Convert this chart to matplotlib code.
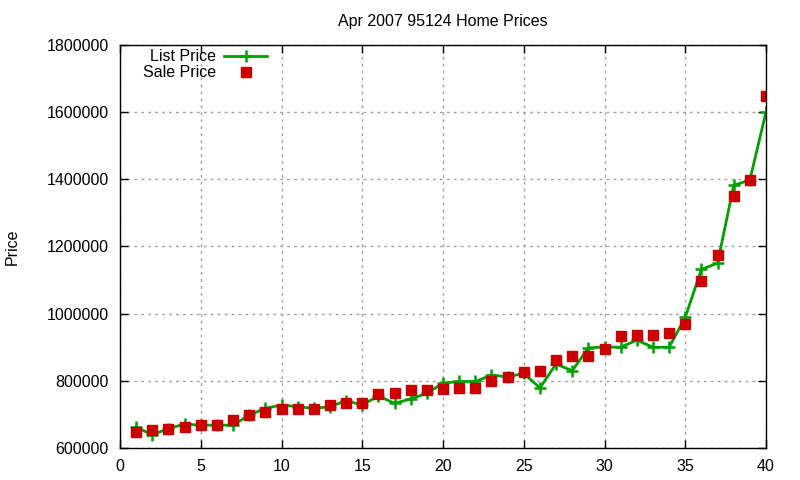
import matplotlib
matplotlib.use("Agg")
import matplotlib.pyplot as plt

plt.rcParams['font.family'] = ['Liberation Sans', 'DejaVu Sans']

# house index (1..40)
homes = list(range(1, 41))
list_price = [662000, 639000, 658000, 671000, 668000, 668000, 668000, 698000, 718000, 728000,
              723000, 718000, 723000, 741000, 728000, 755000, 733000, 746000, 763000, 793000,
              798000, 798000, 817000, 812000, 822000, 779000, 850000, 830000, 898000, 901000,
              900000, 921000, 900000, 900000, 989000, 1132000, 1150000, 1382000, 1398000, 1600000]
sale_price = [647000, 654000, 657000, 663000, 668000, 668000, 683000, 699000, 708000, 716000,
              716000, 716000, 728000, 733000, 735000, 760000, 765000, 773000, 773000, 776000,
              779000, 779000, 798000, 812000, 827000, 830000, 862000, 875000, 874000, 895000,
              933000, 936000, 937000, 943000, 970000, 1098000, 1175000, 1351000, 1398000, 1648000]

fig = plt.figure(figsize=(8, 4.8), dpi=100)
ax = fig.add_axes([0.15, 0.0667, 0.8075, 0.8396])

ax.plot(homes, list_price, color='#00a000', lw=2, marker='+', ms=9, mew=1.8, label='List Price')
ax.plot(homes, sale_price, ls='none', marker='s', ms=6.5, color='#cc0000', label='Sale Price')

ax.set_xlim(0, 40)
ax.set_ylim(600000, 1800000)
ax.set_xticks(range(0, 41, 5))
ax.set_yticks(range(600000, 1800001, 200000))
ax.ticklabel_format(axis='y', style='plain', useOffset=False)
ax.tick_params(direction='in', top=True, right=True, labelsize=11.5, length=6, width=1, pad=8)
ax.grid(True, ls=(0, (2, 3)), color='#a0a0a0', lw=1)
for s in ax.spines.values():
    s.set_linewidth(1)

ax.set_title('Apr 2007 95124 Home Prices', fontsize=11.5, pad=14)
ax.set_ylabel('Price', fontsize=11.5)
ax.yaxis.set_label_coords(-0.155, 0.5)

ax.legend(loc='upper left', markerfirst=False, frameon=False, fontsize=11.5,
          handlelength=2.7, handletextpad=0.5, borderaxespad=0.2, labelspacing=0.05,
          bbox_to_anchor=(0.021, 1.013))

fig.savefig('out.png', dpi=100)
